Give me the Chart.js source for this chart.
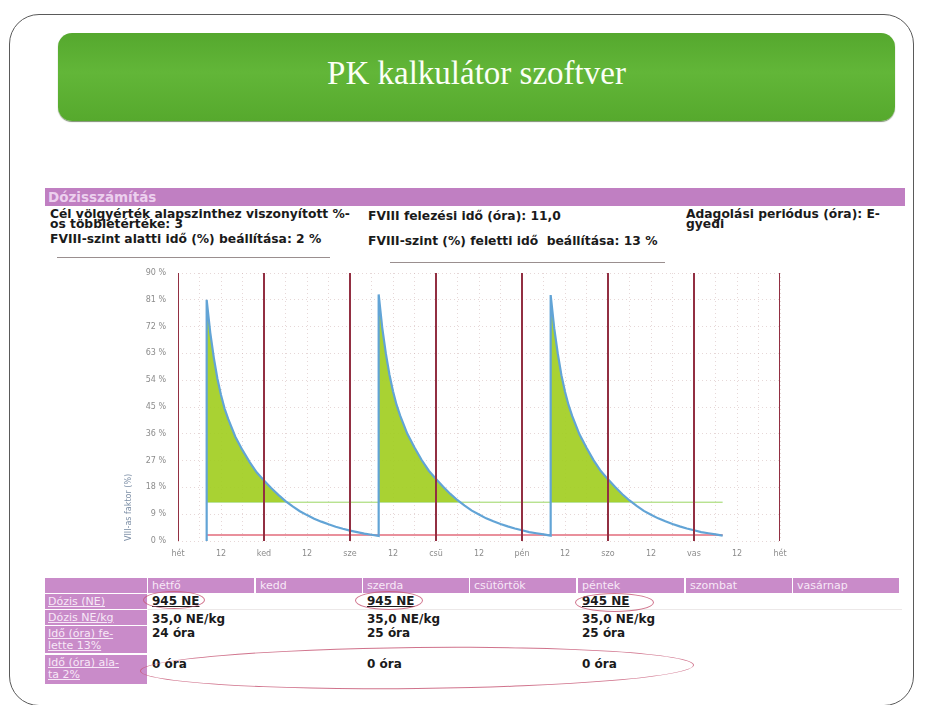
<!DOCTYPE html>
<html>
<head>
<meta charset="utf-8">
<script src="https://cdn.jsdelivr.net/npm/chart.js@4.4.0/dist/chart.umd.min.js"></script>
<style>
  html, body { margin: 0; padding: 0; }
  body { width: 925px; height: 705px; background: #fff; position: relative; overflow: hidden;
         font-family: "DejaVu Sans", Verdana, sans-serif; color: #1d1d1d; }
  .abs { position: absolute; }
  .frame { left: 9px; top: 14px; width: 903px; height: 690px; border: 1.5px solid #5a5a5a; border-radius: 30px; }
  .titlebar { left: 58px; top: 33px; width: 837px; height: 88px; border-radius: 14px;
              background: linear-gradient(180deg, #55a82e 0%, #62b638 45%, #56a92d 100%);
              box-shadow: 0 1px 1px rgba(40,70,20,0.6); }
  .titletext { left: 58px; top: 55px; width: 837px; text-align: center; color: #fbfff6;
               font-family: "Liberation Serif", "DejaVu Serif", serif; font-size: 33px; }
  .purplebar { left: 45px; top: 188px; width: 860px; height: 18px; background: #c07fc2; }
  .purplebar span { position: absolute; left: 3px; top: 1px; font-size: 13.5px; font-weight: bold; color: #ecd0ee; }
  .info { font-size: 12.3px; font-weight: bold; line-height: 10px; color: #1a1a1a; white-space: nowrap; }
  .rule { height: 1px; background: #9a8f8f; }
  .cell { background: #c98bc9; color: #f7e8f7; font-size: 11px; line-height: 12px; white-space: nowrap; }
  .val { font-size: 12px; font-weight: bold; color: #1a1a1a; white-space: nowrap; }
  .ring { border: 1.5px solid rgba(200,90,120,0.85); border-radius: 50%; }
  #chartBox { left: 100px; top: 255px; width: 720px; height: 312px; }
</style>
</head>
<body>
<div class="abs frame"></div>
<div class="abs titlebar"></div>
<div class="abs titletext">PK kalkulátor szoftver</div>

<div class="abs purplebar"><span>Dózisszámítás</span></div>
<div class="abs info" style="left:50px;top:209px;">Cél völgyérték alapszinthez viszonyított %-<br>os többletértéke: 3</div>
<div class="abs info" style="left:368px;top:211px;">FVIII felezési idő (óra): 11,0</div>
<div class="abs info" style="left:686px;top:209px;">Adagolási periódus (óra): E-<br>gyedi</div>
<div class="abs info" style="left:50px;top:234px;">FVIII-szint alatti idő (%) beállítása: 2 %</div>
<div class="abs info" style="left:368px;top:236px;">FVIII-szint (%) feletti idő&nbsp; beállítása: 13 %</div>
<div class="abs rule" style="left:57px;top:257px;width:273px;"></div>
<div class="abs rule" style="left:390px;top:262px;width:275px;"></div>

<div class="abs" id="chartBox"><canvas id="pk" width="720" height="312"></canvas></div>

<div id="table"></div>

<script>
// Week axis: hours 0..168, a label every 12 h
const dayLabels = ['hét', 'ked', 'sze', 'csü', 'pén', 'szo', 'vas', 'hét'];
const weekDays = ['hétfő', 'kedd', 'szerda', 'csütörtök', 'péntek', 'szombat', 'vasárnap'];
const yTicks = [0, 9, 18, 27, 36, 45, 54, 63, 72, 81, 90];

// Infusions (hour of the week) and the FVIII level (%) after each one
const doseHours = [8, 56, 104];
const baselineLevel = 0;
const hoursAfterDose = [0, 1, 2, 3, 4, 5, 6, 8, 10, 12, 14, 16, 18, 20, 22, 24, 26, 28, 30, 32, 34, 36, 38, 40, 42, 44, 46, 48];
const levelMon = [81.0, 70.0, 61.5, 54.5, 49.0, 44.5, 41.0, 35.0, 30.5, 26.5, 23.0, 20.3, 17.8, 15.5, 13.4, 11.6, 10.0, 8.7, 7.5, 6.5, 5.6, 4.8, 4.1, 3.5, 3.0, 2.5, 2.1, 1.7];
const levelWed = [82.8, 71.6, 63.0, 55.9, 50.3, 45.7, 42.1, 36.0, 31.4, 27.2, 23.6, 20.8, 18.2, 15.8, 13.7, 11.9, 10.2, 8.9, 7.6, 6.6, 5.7, 4.9, 4.2, 3.6, 3.0, 2.6, 2.2, 1.8];
const levelFri = [82.6, 71.4, 62.8, 55.7, 50.1, 45.6, 42.0, 35.9, 31.3, 27.1, 23.5, 20.7, 18.1, 15.7, 13.6, 11.8, 10.1, 8.8, 7.6, 6.6, 5.7, 4.9, 4.2, 3.6, 3.0, 2.6, 2.2, 1.8];

// Threshold settings (%)
const levelAbove = 13;
const levelBelow = 2;

// Table rows
const doseIU = ['945 NE', '', '945 NE', '', '945 NE', '', ''];
const dosePerKg = ['35,0 NE/kg', '', '35,0 NE/kg', '', '35,0 NE/kg', '', ''];
const hoursAbove = ['24 óra', '', '25 óra', '', '25 óra', '', ''];
const hoursBelow = ['0 óra', '', '0 óra', '', '0 óra', '', ''];

// ---- build the level curve from the per-dose series
const doseSeries = [levelMon, levelWed, levelFri];
const curve = [{ x: doseHours[0], y: baselineLevel }];
doseSeries.forEach((series, i) => {
  series.forEach((v, k) => curve.push({ x: doseHours[i] + hoursAfterDose[k], y: v }));
});
const startHour = doseHours[0];
const endHour = doseHours[doseHours.length - 1] + hoursAfterDose[hoursAfterDose.length - 1];

const dayLines = dayLabels.map((_, d) => ({
  data: [{ x: d * 24, y: 0 }, { x: d * 24, y: 90 }],
  borderColor: '#922f42', borderWidth: 2, pointRadius: 0, fill: false, order: 0
}));

new Chart(document.getElementById('pk'), {
  type: 'line',
  data: {
    datasets: [
      ...dayLines,
      {
        data: curve, borderColor: '#62a4d6', borderWidth: 2.2, pointRadius: 0, tension: 0, order: 1,
        fill: { target: { value: levelAbove }, above: 'rgba(162,206,34,0.92)', below: 'rgba(0,0,0,0)' }
      },
      {
        data: [{ x: startHour, y: levelAbove }, { x: endHour, y: levelAbove }],
        borderColor: 'rgba(178,224,150,0.85)', borderWidth: 1.5, pointRadius: 0, fill: false, order: 2
      },
      {
        data: [{ x: startHour, y: levelBelow }, { x: endHour, y: levelBelow }],
        borderColor: 'rgba(220,80,100,0.85)', borderWidth: 1.5, pointRadius: 0, fill: false, order: 3
      }
    ]
  },
  options: {
    responsive: false, animation: false,
    layout: { padding: { top: 18, right: 40, bottom: 0, left: 0 } },
    plugins: { legend: { display: false }, tooltip: { enabled: false } },
    scales: {
      x: {
        type: 'linear', min: 0, max: 168,
        afterFit: s => { s.height = 26; },
        grid: { color: 'rgba(205,175,175,0.5)', lineWidth: 1, drawTicks: false },
        border: { display: false, dash: [1, 3] },
        ticks: {
          stepSize: 6, autoSkip: false, maxRotation: 0, padding: 8,
          color: '#8c8c8c', font: { size: 8, family: 'DejaVu Sans' },
          callback: v => (v % 24 === 0 ? dayLabels[v / 24] : (v % 12 === 0 ? '12' : ''))
        }
      },
      y: {
        type: 'linear', min: 0, max: 90,
        afterFit: s => { s.width = 78; },
        afterBuildTicks: s => { s.ticks = yTicks.map(v => ({ value: v })); },
        grid: { color: 'rgba(205,175,175,0.5)', lineWidth: 1, drawTicks: false },
        border: { display: false, dash: [1, 3] },
        ticks: { padding: 12, color: '#8c8c8c', font: { size: 8, family: 'DejaVu Sans' }, callback: v => v + ' %' },
        title: {
          display: true, text: 'VIII-as faktor (%)', align: 'start', color: '#7d8fa6',
          font: { size: 8, family: 'DejaVu Sans' }, padding: { top: 24, bottom: 0 }
        }
      }
    }
  }
});

// ---- dosing table
(function () {
  const t = document.getElementById('table');
  const colX = [148, 256, 363, 470, 578, 686, 793];
  const colW = 107;
  const add = (cls, style, html) => {
    const d = document.createElement('div');
    d.className = 'abs ' + cls;
    d.setAttribute('style', style);
    d.innerHTML = html;
    t.appendChild(d);
  };
  add('cell', 'left:45px;top:578px;width:102px;height:15px;', '');
  weekDays.forEach((name, i) => {
    add('cell', `left:${colX[i]}px;top:578px;width:${colW - 1}px;height:15px;padding-left:4px;box-sizing:border-box;line-height:15px;`, name);
  });
  const rowLabels = [
    { top: 594, h: 15, text: 'Dózis (NE)' },
    { top: 610, h: 15, text: 'Dózis NE/kg' },
    { top: 626, h: 27, text: 'Idő (óra) fe-<br>lette 13%' },
    { top: 655, h: 29, text: 'Idő (óra) ala-<br>ta 2%' }
  ];
  rowLabels.forEach(r => {
    add('cell', `left:45px;top:${r.top}px;width:102px;height:${r.h}px;padding:2px 0 0 3px;box-sizing:border-box;text-decoration:underline;`, r.text);
  });
  const rows = [
    { data: doseIU, top: 594, deco: 'text-decoration:underline;' },
    { data: dosePerKg, top: 612, deco: '' },
    { data: hoursAbove, top: 626, deco: '' },
    { data: hoursBelow, top: 657, deco: '' }
  ];
  rows.forEach(r => r.data.forEach((txt, i) => {
    if (txt) add('val', `left:${colX[i] + 4}px;top:${r.top}px;${r.deco}`, txt);
  }));
  add('rule', 'left:148px;top:609px;width:754px;background:#ece8e8;', '');
  // highlight rings
  add('ring', 'left:143px;top:591px;width:60px;height:16px;', '');
  add('ring', 'left:355px;top:591px;width:66px;height:17px;', '');
  add('ring', 'left:575px;top:593px;width:77px;height:17px;', '');
  add('ring', 'left:140px;top:647px;width:552px;height:40px;transform:rotate(-0.6deg);', '');
})();
</script>
</body>
</html>
